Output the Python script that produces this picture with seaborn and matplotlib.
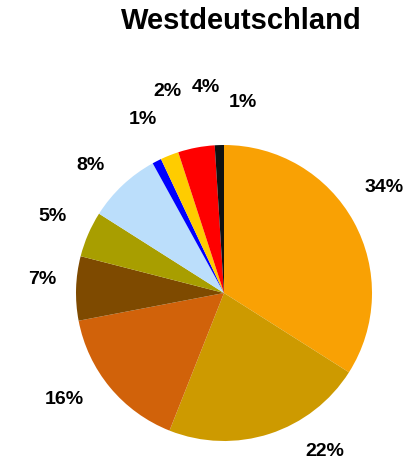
import matplotlib
matplotlib.use("Agg")
import matplotlib.pyplot as plt
import seaborn as sns

sns.set_theme(style="white")
plt.rcParams["font.family"] = ["Liberation Sans", "DejaVu Sans"]

# data
shares = [34, 22, 16, 7, 5, 8, 1, 2, 4, 1]
labels = ["34%", "22%", "16%", "7%", "5%", "8%", "1%", "2%", "4%", "1%"]
colors = ["#F9A104", "#CD9A00", "#D1620A", "#7E4A00", "#A89E00",
          "#BBDEFB", "#0000FF", "#FFCC00", "#FF0000", "#111111"]
# label positions in units of the pie radius
label_pos = [(1.08, 0.71), (0.68, -1.07), (-1.08, -0.72), (-1.23, 0.09),
             (-1.16, 0.52), (-0.90, 0.86), (-0.55, 1.17), (-0.38, 1.36),
             (-0.12, 1.39), (0.13, 1.29)]

fig = plt.figure(figsize=(4.13, 4.63), dpi=100)
fig.patch.set_facecolor("white")
r = 148
ax = fig.add_axes([(224 - r) / 413, (463 - 293 - r) / 463, 2 * r / 413, 2 * r / 463])

wedges, _ = ax.pie(shares, colors=sns.color_palette(colors), startangle=90,
                   counterclock=False, radius=1,
                   wedgeprops=dict(linewidth=0))
ax.set_xlim(-1, 1)
ax.set_ylim(-1, 1)
ax.set_aspect("equal")
ax.axis("off")

for lab, (x, y) in zip(labels, label_pos):
    ax.text(x, y, lab, ha="center", va="center", fontsize=14,
            fontweight="heavy", color="black")

fig.text(241 / 413, 1 - 21 / 463, "Westdeutschland", ha="center", va="center",
         fontsize=21, fontweight="heavy", color="black")

plt.savefig("out.png", dpi=100)
